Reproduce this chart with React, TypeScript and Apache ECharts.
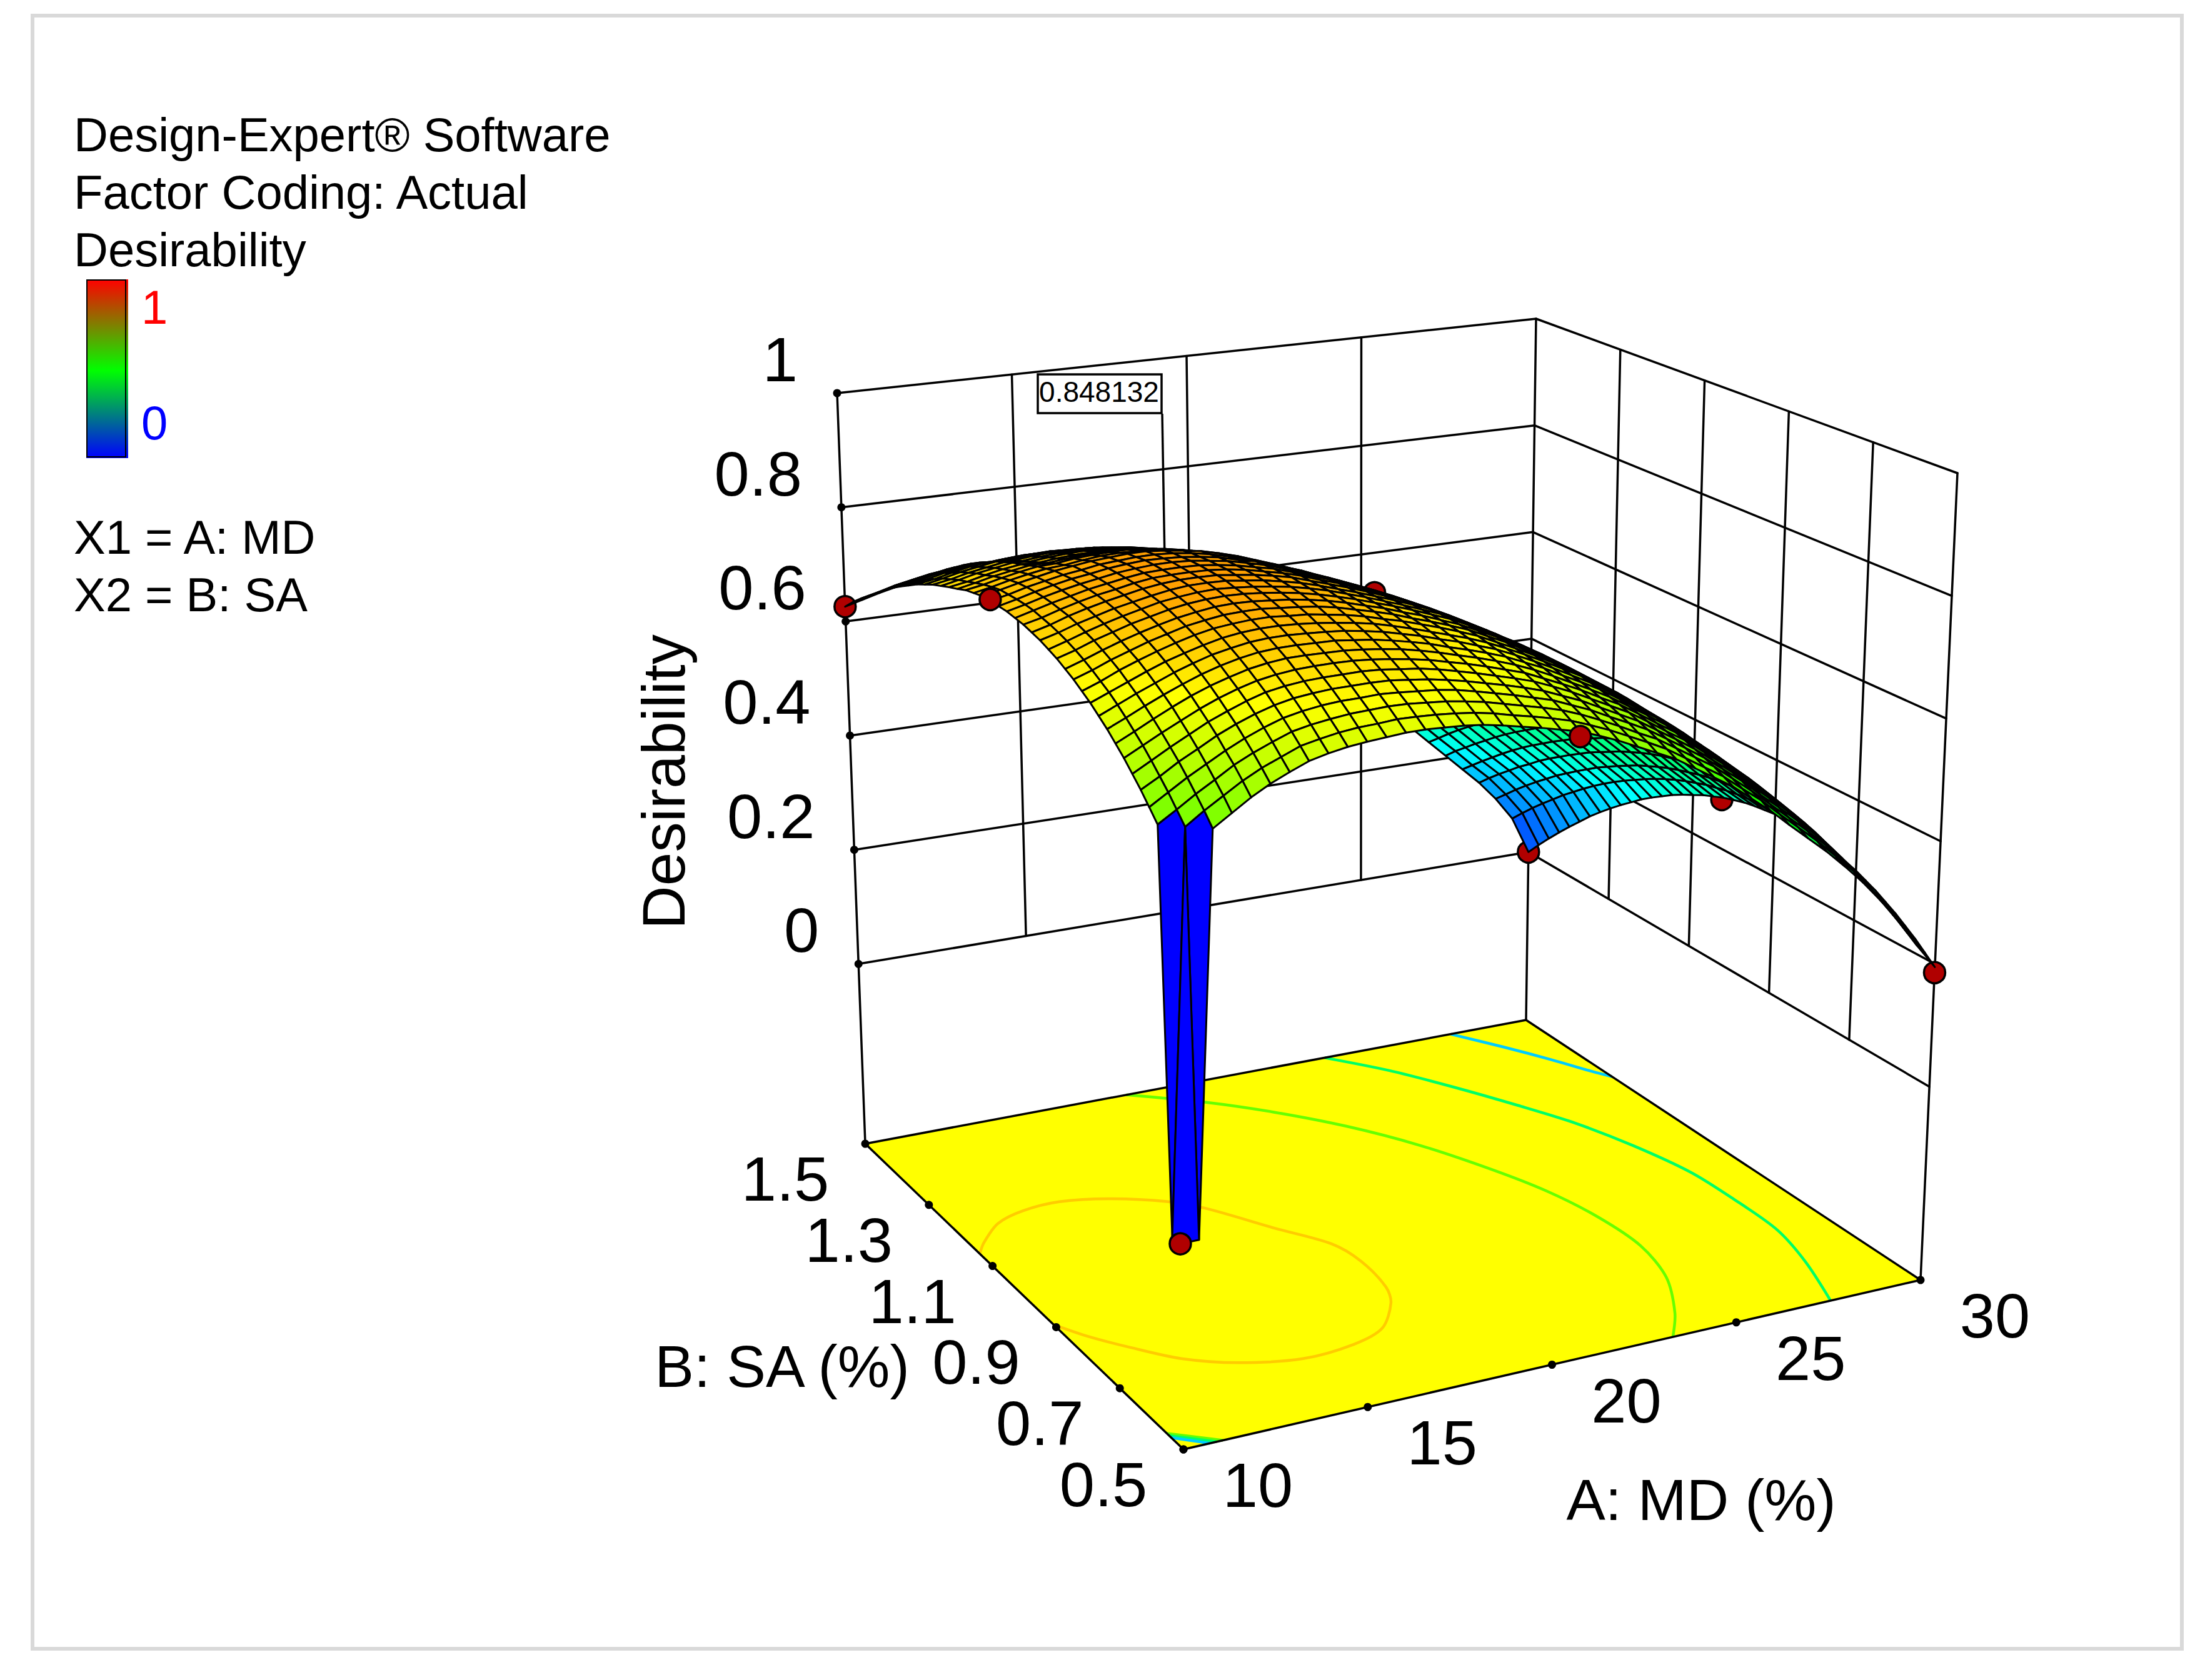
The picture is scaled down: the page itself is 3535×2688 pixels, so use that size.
import React, { useEffect, useRef } from "react";
import * as echarts from "echarts";

const mdTicks = [10, 15, 20, 25, 30];
const saTicks = [0.5, 0.7, 0.9, 1.1, 1.3, 1.5];
const desTicks = [0, 0.2, 0.4, 0.6, 0.8, 1];
const floorZ = -0.315;
const surfaceA = [10, 10.5, 11, 11.5, 12, 12.5, 13, 13.5, 14, 14.5, 15, 15.5, 16, 16.5, 17, 17.5, 18, 18.5, 19, 19.5, 20, 20.5, 21, 21.5, 22, 22.5, 23, 23.5, 24, 24.5, 25, 25.5, 26, 26.5, 27, 27.5, 28, 28.5, 29, 29.5, 30];
const surfaceB = [0.5, 0.525, 0.55, 0.575, 0.6, 0.625, 0.65, 0.675, 0.7, 0.725, 0.75, 0.775, 0.8, 0.825, 0.85, 0.875, 0.9, 0.925, 0.95, 0.975, 1.0, 1.025, 1.05, 1.075, 1.1, 1.125, 1.15, 1.175, 1.2, 1.225, 1.25, 1.275, 1.3, 1.325, 1.35, 1.375, 1.4, 1.425, 1.45, 1.475, 1.5];
// Desirability x 1000, one row per A value, one entry per B value.
const surfaceMilli = [
  [0,0,625,643,661,677,693,707,721,733,745,755,765,773,781,787,793,797,801,803,805,805,805,804,800,796,789,783,776,769,760,751,740,729,717,703,689,674,660,644,626],
  [0,625,643,661,677,693,708,721,734,746,757,766,775,783,790,796,801,805,808,811,812,812,811,810,806,801,795,788,782,774,766,756,746,735,722,709,695,681,667,651,634],
  [626,645,662,679,695,709,723,736,748,759,769,779,787,794,801,806,811,815,817,819,820,820,819,817,813,808,802,795,789,781,773,763,753,742,730,716,702,689,675,659,642],
  [645,663,679,695,710,724,737,750,761,771,781,790,797,804,810,815,819,823,825,826,827,827,825,823,819,814,807,801,794,786,778,769,758,747,735,722,708,695,681,665,649],
  [664,681,697,711,726,739,751,763,773,783,792,800,807,813,819,823,827,830,832,833,833,833,831,829,824,819,812,805,799,791,783,773,763,752,740,727,714,700,687,671,655],
  [680,696,711,725,739,751,763,774,784,793,801,809,815,821,826,830,833,836,837,838,838,837,835,833,826,820,812,804,797,789,781,771,761,750,738,725,712,699,687,673,659],
  [693,708,723,737,750,762,773,783,793,802,809,817,823,828,833,837,839,842,843,843,843,842,840,837,830,824,815,807,800,792,784,774,764,753,741,728,715,702,690,676,662],
  [705,720,734,747,759,771,781,791,800,808,816,823,828,833,838,841,844,846,847,847,846,845,842,839,833,826,818,809,802,794,786,776,766,755,743,730,716,704,692,678,664],
  [712,726,740,753,765,776,786,796,805,813,820,826,832,837,841,844,847,848,848,848,848,847,844,841,834,827,819,810,803,795,786,777,767,755,744,731,717,705,693,679,665],
  [717,731,744,757,768,779,789,799,807,815,822,828,833,838,842,845,847,848,848,848,848,846,844,841,833,827,818,809,802,794,785,776,765,754,742,730,716,704,692,678,664],
  [720,734,747,759,770,780,790,799,807,815,822,828,833,837,841,843,846,847,847,847,846,844,842,838,831,824,816,807,800,792,783,774,764,752,741,728,715,702,691,677,663],
  [722,735,748,759,770,780,790,798,806,813,820,825,830,834,838,840,842,843,844,843,842,840,838,834,827,820,811,803,796,788,779,769,759,748,736,724,711,699,687,673,660],
  [724,737,749,760,770,780,789,797,805,811,817,823,827,831,834,836,838,839,839,838,837,835,832,829,821,814,806,797,790,782,773,764,753,743,731,718,705,693,682,668,655],
  [724,736,748,758,769,778,786,794,801,808,813,818,823,826,829,831,832,833,832,831,830,827,824,821,813,806,797,788,781,772,764,754,744,732,721,708,695,683,671,658,645],
  [722,734,745,755,765,774,782,790,797,803,808,813,817,820,822,824,825,826,825,824,822,820,816,812,804,797,788,779,771,763,753,744,733,722,710,697,683,671,659,646,632],
  [720,731,742,752,761,770,777,785,791,797,802,806,809,812,814,816,816,816,816,814,812,809,805,801,793,785,776,767,759,750,741,731,720,709,697,684,671,658,646,633,619],
  [716,727,737,747,755,764,771,778,784,789,794,797,801,803,805,806,806,806,805,803,801,798,794,790,781,773,764,754,746,738,728,718,707,695,683,670,656,644,632,618,605],
  [710,721,731,740,748,756,763,770,776,781,785,789,792,794,795,796,796,796,795,793,790,787,783,778,769,761,751,742,734,725,715,705,694,682,669,656,642,630,618,604,590],
  [703,713,723,732,740,748,755,761,766,771,775,779,781,783,785,785,785,785,783,781,778,775,770,765,757,748,738,729,720,711,701,691,680,668,655,642,628,615,603,589,575],
  [696,706,715,724,732,739,746,752,757,762,765,769,771,773,774,774,774,773,771,769,766,762,758,753,744,735,725,715,707,697,688,677,666,653,641,627,613,601,588,574,560],
  [688,698,707,715,723,730,736,742,747,751,755,758,760,761,762,762,762,761,759,756,753,749,744,739,730,721,711,701,692,683,673,662,651,639,626,612,598,585,573,559,545],
  [680,689,698,706,713,720,726,731,736,740,743,746,748,749,750,750,749,747,745,742,739,735,730,725,716,707,696,686,677,668,658,647,635,623,610,597,583,570,557,543,529],
  [668,677,686,693,700,707,712,718,722,726,729,731,733,734,735,734,733,732,730,727,723,719,714,708,699,690,680,670,661,651,641,630,618,606,593,580,566,553,540,526,512],
  [655,664,672,680,687,693,698,703,708,711,714,716,718,719,719,719,718,716,714,711,707,703,698,692,683,674,663,653,644,635,624,613,602,590,577,563,549,536,523,509,495],
  [640,649,657,664,671,677,683,687,691,695,698,700,701,702,703,702,701,699,697,694,690,686,681,675,665,656,646,636,627,617,607,596,584,572,559,546,531,519,506,492,478],
  [625,634,641,649,655,661,666,671,675,678,681,683,684,685,685,685,683,682,679,676,672,668,662,657,647,638,627,617,608,598,588,577,565,553,540,527,512,500,487,473,459],
  [610,618,626,633,639,645,650,654,658,661,664,665,667,667,667,666,665,663,660,657,653,648,643,637,628,619,608,597,588,579,568,557,546,533,521,507,493,480,468,453,440],
  [590,598,606,613,619,625,630,634,638,641,644,645,647,647,647,646,645,643,640,637,633,628,623,617,610,602,592,582,573,564,553,542,531,518,506,492,478,464,451,435,420],
  [570,578,586,593,599,604,609,614,617,620,623,625,626,626,626,625,624,622,619,616,612,607,602,596,589,581,571,562,553,543,533,522,510,498,485,472,458,444,431,416,400],
  [550,558,566,572,578,584,589,593,597,600,602,604,605,605,605,604,602,600,597,594,590,585,580,574,567,560,552,544,535,525,514,503,492,479,466,453,438,424,408,392,375],
  [525,533,541,548,554,560,565,569,573,576,578,580,581,582,582,581,579,577,574,571,567,562,557,551,545,537,529,521,512,502,491,480,468,456,443,429,415,400,384,368,350],
  [500,509,516,524,530,536,541,546,549,553,555,557,558,559,559,558,557,554,552,548,544,539,534,528,521,514,506,497,488,478,467,455,443,431,417,403,389,373,357,341,323],
  [472,481,489,496,503,509,515,519,523,527,529,531,533,533,533,533,531,529,526,523,519,514,509,503,496,488,480,471,462,452,441,429,417,404,391,377,362,346,330,313,295],
  [445,454,462,470,477,483,488,493,497,501,504,506,507,508,508,507,506,504,501,497,493,488,483,477,470,462,454,445,435,425,414,402,390,376,363,348,333,317,300,283,265],
  [418,427,435,443,450,456,462,467,471,474,477,479,480,481,481,480,479,477,474,470,466,461,456,449,442,435,426,417,407,397,386,374,361,348,334,319,304,288,271,253,235],
  [388,397,406,414,421,427,433,438,442,446,448,451,452,453,453,452,451,449,446,442,438,433,427,421,414,406,398,389,379,368,357,345,332,319,305,290,274,258,241,224,205],
  [356,366,374,382,390,397,403,408,412,416,419,421,423,424,424,423,422,420,417,414,410,405,399,393,386,378,370,360,350,340,328,316,303,290,276,261,245,228,211,193,175],
  [320,330,339,348,356,363,369,375,379,383,387,389,391,393,393,393,392,390,387,384,380,375,370,364,357,349,341,331,321,311,299,287,274,261,247,231,216,199,182,164,145],
  [280,291,301,310,319,327,334,340,345,350,354,357,359,361,362,362,361,359,357,354,350,345,340,334,327,319,311,301,291,280,269,256,243,229,215,199,183,166,148,129,110],
  [236,248,260,271,280,289,298,305,311,317,322,326,329,331,332,333,332,331,329,326,322,318,312,306,299,291,282,272,261,250,238,225,211,196,180,164,146,128,109,89,68],
  [195,209,223,235,247,257,267,275,283,289,295,299,303,305,307,307,307,305,303,300,295,290,283,276,267,258,248,236,224,211,196,181,165,148,130,110,90,69,47,24,0],
];
const backPoints = [[20.5, 1.05, 0.728], [30, 1.03, 0.285], [30, 1.5, 0.0], [30, 0.5, 0.186], [10, 1.5, 0.626]];
const frontPoints = [[10, 1.05, 0.807], [20.5, 0.5, 0.672], [10, 0.5, 0.0]];
const peakPoint = [14.3, 1.0, 0.848];
const contourLevels = [0.8, 0.6, 0.4, 0.2, 0.6, 0.4, 0.2];
const contourLines = [
  [[10, 1.14], [10.38, 1.168], [11.2, 1.212], [12.13, 1.233], [13.25, 1.238], [14.53, 1.219], [15.83, 1.179], [16.54, 1.139], [17.6, 1.044], [18.47, 0.967], [18.65, 0.902], [18.5, 0.816], [18.18, 0.769], [17.32, 0.705], [16.27, 0.678], [14.8, 0.67], [13.26, 0.698], [12.09, 0.743], [11.22, 0.802], [10.5, 0.858], [10.03, 0.905]],
  [[17.9, 1.5], [19.63, 1.436], [20.96, 1.371], [22.25, 1.29], [23.34, 1.196], [24.24, 1.085], [24.83, 0.987], [25.16, 0.884], [25.22, 0.776], [24.84, 0.671], [24.0, 0.566], [23.28, 0.5]],
  [[23.9, 1.5], [25.03, 1.427], [26.0, 1.343], [26.89, 1.252], [27.61, 1.167], [28.17, 1.067], [28.57, 0.955], [28.64, 0.851], [28.6, 0.737], [28.21, 0.627], [27.56, 0.5]],
  [[27.72, 1.5], [28.52, 1.432], [29.19, 1.368], [29.7, 1.312], [30, 1.282]],
  [[10, 0.552], [11.07, 0.5]],
  [[10, 0.545], [10.9, 0.5]],
  [[10, 0.5385], [10.72, 0.5]],
];
const legendLines = [["Design-Expert® Software", 242], ["Factor Coding: Actual", 334], ["Desirability", 426], ["X1 = A: MD", 886], ["X2 = B: SA", 978]];

// Page positions of the eight corners of the plot box: floor then top; [A low/B low, A high/B low, A low/B high, A high/B high].
const boxFloor = [[1893, 2319], [3072, 2048], [1384, 1830], [2441, 1632]];
const boxTop = [[1872, 946], [3131, 757], [1339, 629], [2457, 510]];
function project(a: number, b: number, z: number) {
  const u = (a - 10) / 20, v = b - 0.5, w = (z - floorZ) / (1 - floorZ);
  const bil = (c: number[][], k: number) =>
    (1 - u) * (1 - v) * c[0][k] + u * (1 - v) * c[1][k] + (1 - u) * v * c[2][k] + u * v * c[3][k];
  return [0, 1].map((k) => (1 - w) * bil(boxFloor, k) + w * bil(boxTop, k));
}
function rainbow(z: number) {
  const t = Math.max(0, Math.min(1, z)) * 4;
  const s = Math.floor(Math.min(t, 3.999));
  const f = t - s;
  const c = s === 0 ? [0, f, 1] : s === 1 ? [0, 1, 1 - f] : s === 2 ? [f, 1, 0] : [1, 1 - f, 0];
  return `rgb(${c.map((x) => Math.round(x * 255)).join(",")})`;
}
const FONT = '"Liberation Sans", Arial, sans-serif';
const LW = 3.5;

function customSeries(items: any[], z: number, draw: (item: any, api: any) => any) {
  return {
    type: "custom", coordinateSystem: "cartesian2d", silent: true, z, clip: false, progressive: 0,
    data: items.map((_, i) => [i, 0]),
    renderItem: (params: any, api: any) => draw(items[params.dataIndex], api),
  };
}
const seg = (p: number[], q: number[], api: any, lineWidth = LW) => {
  const a = api.coord(project(p[0], p[1], p[2]));
  const b = api.coord(project(q[0], q[1], q[2]));
  return { type: "line", shape: { x1: a[0], y1: a[1], x2: b[0], y2: b[1] }, style: { stroke: "#000", lineWidth, lineCap: "round" } };
};
const dot = (p: number[], api: any, r: number, fill: string, lineWidth = 0) => {
  const a = api.coord(project(p[0], p[1], p[2]));
  return { type: "circle", shape: { cx: a[0], cy: a[1], r }, style: { fill, stroke: "#000", lineWidth } };
};
const midY = (baseline: number, size: number) => baseline - 0.3465 * size;

function buildOption() {
  const aMin = mdTicks[0], aMax = mdTicks[4], bMin = saTicks[0], bMax = saTicks[5], zTop = desTicks[5];
  const wall: number[][][] = [];
  desTicks.forEach((z) => {
    wall.push([[aMin, bMax, z], [aMax, bMax, z]]);
    wall.push([[aMax, bMax, z], [aMax, bMin, z]]);
  });
  mdTicks.forEach((a) => wall.push([[a, bMax, a === aMin || a === aMax ? floorZ : 0], [a, bMax, zTop]]));
  saTicks.forEach((b) => { if (b !== bMax) wall.push([[aMax, b, b === bMin ? floorZ : 0], [aMax, b, zTop]]); });
  const floorEdges = [
    [[aMin, bMin, floorZ], [aMax, bMin, floorZ]], [[aMax, bMin, floorZ], [aMax, bMax, floorZ]],
    [[aMax, bMax, floorZ], [aMin, bMax, floorZ]], [[aMin, bMax, floorZ], [aMin, bMin, floorZ]],
  ];
  const tickDots: number[][] = [
    ...desTicks.map((z) => [aMin, bMax, z]),
    ...mdTicks.map((a) => [a, bMin, floorZ]),
    ...saTicks.map((b) => [aMin, b, floorZ]),
  ];
  const cells: number[][] = [];
  for (let i = surfaceA.length - 2; i >= 0; i--)
    for (let j = surfaceB.length - 2; j >= 0; j--) cells.push([i, j]);
  const node = (i: number, j: number) => [surfaceA[i], surfaceB[j], surfaceMilli[i][j] / 1000];

  const labels: any[] = [
    ...desTicks.map((z) => ({ p: [aMin, bMax, z], dx: -63, dy: -54, text: String(z), align: "right" })),
    ...mdTicks.map((a) => ({ p: [a, bMin, floorZ], dx: 119, dy: 57, text: String(a), align: "center" })),
    ...saTicks.map((b) => ({ p: [aMin, b, floorZ], dx: -128, dy: 56, text: b.toFixed(1), align: "center" })),
  ];

  const series = [
    customSeries(wall, 1, (s, api) => seg(s[0], s[1], api)),
    customSeries([0], 2, (_, api) => ({
      type: "polygon",
      shape: { points: [[aMin, bMin], [aMax, bMin], [aMax, bMax], [aMin, bMax]].map((c) => api.coord(project(c[0], c[1], floorZ))) },
      style: { fill: "#ffff00" },
    })),
    customSeries(contourLines, 3, (line, api) => ({
      type: "polyline",
      shape: { points: line.map((c: number[]) => api.coord(project(c[0], c[1], floorZ))), smooth: 0.3 },
      style: { fill: "none", stroke: rainbow(contourLevels[contourLines.indexOf(line)]), lineWidth: 4.5 },
    })),
    customSeries(floorEdges, 4, (s, api) => seg(s[0], s[1], api)),
    customSeries(tickDots, 5, (p, api) => dot(p, api, 6.5, "#000")),
    customSeries([peakPoint], 6, (p, api) => {
      const a = api.coord(project(p[0], p[1], p[2]));
      const b = api.coord([1859, 662]);
      return { type: "line", shape: { x1: a[0], y1: a[1], x2: b[0], y2: b[1] }, style: { stroke: "#000", lineWidth: LW } };
    }),
    customSeries(backPoints, 7, (p, api) => dot(p, api, 17, "#b00000", LW)),
    customSeries(cells, 8, (c, api) => {
      const [i, j] = c;
      const pts = [node(i, j), node(i + 1, j), node(i + 1, j + 1), node(i, j + 1)].map((n) => api.coord(project(n[0], n[1], n[2])));
      return { type: "polygon", shape: { points: pts }, style: { fill: rainbow(surfaceMilli[i][j] / 1000), stroke: "#000", lineWidth: 3, lineJoin: "round" } };
    }),
    customSeries(frontPoints, 9, (p, api) => dot(p, api, 17, "#b00000", LW)),
    customSeries(labels, 10, (l, api) => {
      const a = api.coord(project(l.p[0], l.p[1], l.p[2]));
      return { type: "text", style: { x: a[0] + l.dx, y: a[1] + l.dy, text: l.text, fill: "#000", font: `101px ${FONT}`, textAlign: l.align, textVerticalAlign: "middle" } };
    }),
  ];

  const txt = (text: string, x: number, y: number, size: number, fill = "#000", align = "left", rotation = 0) => ({
    type: "text", x, y, rotation,
    style: { text, x: 0, y: 0, fill, font: `${size}px ${FONT}`, textAlign: align, textVerticalAlign: "middle" },
  });
  const graphic = [
    { type: "rect", shape: { x: 52, y: 25, width: 3438, height: 2613 }, style: { fill: "none", stroke: "#d9d9d9", lineWidth: 6 } },
    ...legendLines.map((l) => txt(l[0] as string, 118, midY(l[1] as number, 76), 76)),
    { type: "rect", shape: { x: 138, y: 447, width: 67, height: 286 },
      style: { fill: new echarts.graphic.LinearGradient(0, 0, 0, 1, [{ offset: 0, color: "#ff0000" }, { offset: 0.51, color: "#00ff00" }, { offset: 1, color: "#0000ff" }]) } },
    { type: "rect", shape: { x: 139, y: 448, width: 62, height: 283 }, style: { fill: "none", stroke: "#000", lineWidth: 2 } },
    txt("1", 226, midY(518, 76), 76, "#ff0000"),
    txt("0", 226, midY(703, 76), 76, "#0000ff"),
    txt("A: MD (%)", 2721, 2399, 93.5, "#000", "center"),
    txt("B: SA (%)", 1251, 2186, 94, "#000", "center"),
    txt("Desirability", 1061, 1251, 96.5, "#000", "center", Math.PI / 2),
    { type: "rect", shape: { x: 1660, y: 599, width: 198, height: 62 }, style: { fill: "#fff", stroke: "#000", lineWidth: 3.5 } },
    txt("0.848132", 1758, midY(643, 46), 46, "#000", "center"),
  ];

  return {
    animation: false,
    backgroundColor: "#fff",
    grid: { left: 0, top: 0, width: 3535, height: 2688, show: false },
    xAxis: { type: "value", min: 0, max: 3535, show: false },
    yAxis: { type: "value", min: 0, max: 2688, inverse: true, show: false },
    series,
    graphic: { elements: graphic.map((g) => ({ ...g, z: 100 })) },
  };
}

export default function App() {
  const ref = useRef<HTMLDivElement>(null);
  useEffect(() => {
    document.body.style.margin = "0";
    const chart = echarts.init(ref.current!, null, { renderer: "svg" });
    chart.setOption(buildOption() as any);
    return () => chart.dispose();
  }, []);
  return <div ref={ref} style={{ width: 3535, height: 2688, position: "absolute", left: 0, top: 0 }} />;
}
